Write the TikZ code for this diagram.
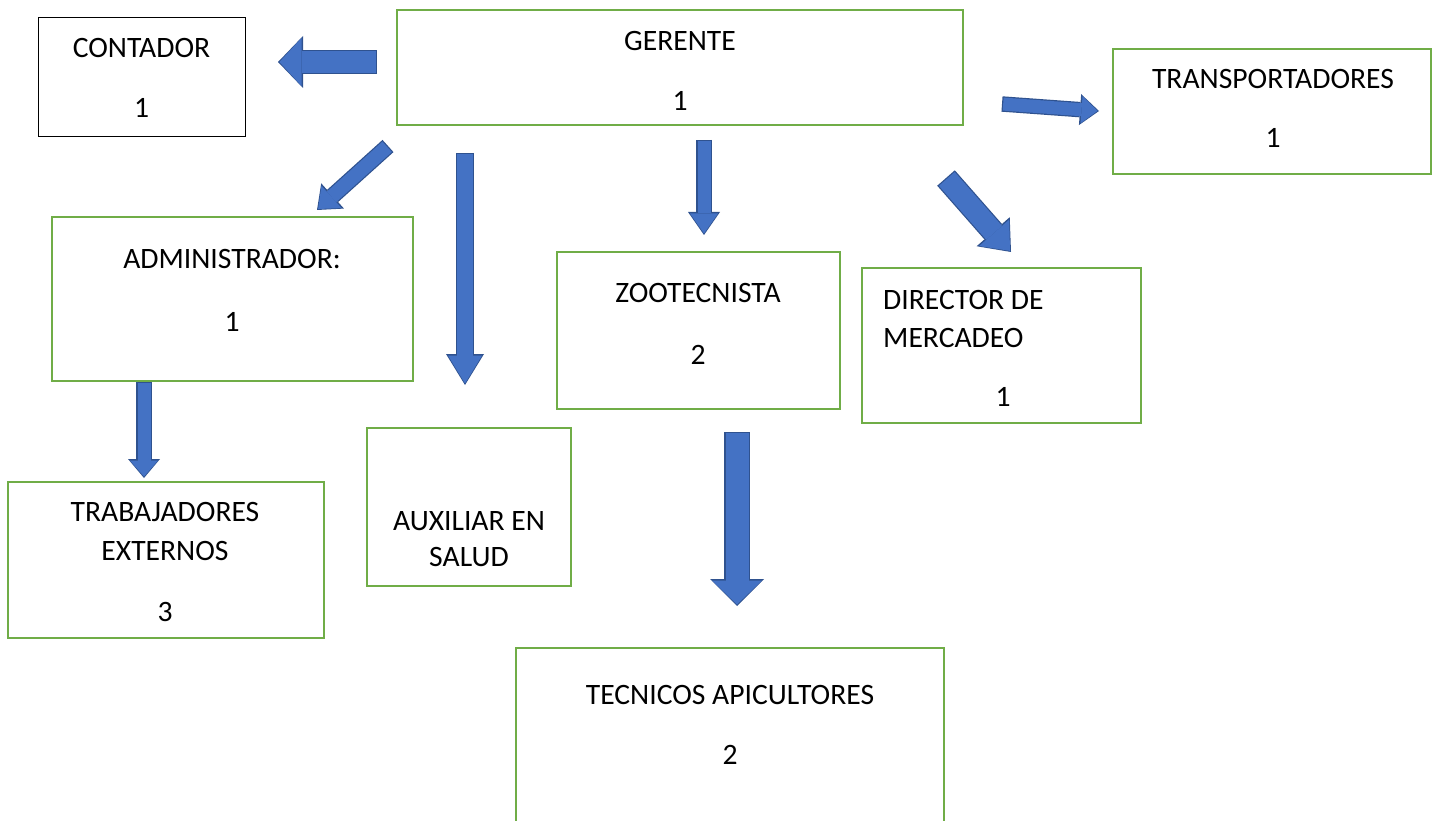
\documentclass[tikz,border=0pt]{standalone}
\usepackage{fontspec}
\setmainfont{Carlito}
\usetikzlibrary{arrows.meta}

\definecolor{verde}{HTML}{70AD47}
\definecolor{azul}{HTML}{4472C4}
\definecolor{bordeazul}{HTML}{2F528F}

\tikzset{
  caja/.style={draw=verde, line width=2.5pt, rectangle},
  texto/.style={anchor=base, inner sep=0pt, font=\fontsize{29.6}{35}\selectfont},
  flecha/.style n args={3}{
    /utils/exec={\pgfmathsetmacro\anchoext{#1+2.4}\pgfmathsetmacro\puntaext{#2+4}\pgfmathsetmacro\largoext{#3+3}},
    draw=azul, line width=#1pt, shorten >=1.5pt, shorten <=1.2pt,
    -{Triangle[width=#2pt, length=#3pt, line width=0pt]},
    preaction={draw=bordeazul, line width=\anchoext pt, shorten >=0pt, shorten <=0pt,
      -{Triangle[width=\puntaext pt, length=\largoext pt, line width=0pt]}}
  }
}

\begin{document}
\begin{tikzpicture}[x=1pt, y=-1pt]
    \useasboundingbox (0,0) rectangle (1433,821);
    % cajas
    \node[draw=black, line width=1pt, minimum width=207pt, minimum height=119pt] (contador) at (141.5,77.5) {};
    \node[caja, minimum width=566pt, minimum height=115pt] (gerente) at (680,67.5) {};
    \node[caja, minimum width=318pt, minimum height=125pt] (transportadores) at (1272,111.5) {};
    \node[caja, minimum width=361pt, minimum height=164pt] (administrador) at (232.5,299) {};
    \node[caja, minimum width=283pt, minimum height=157pt] (zootecnista) at (698.5,330.5) {};
    \node[caja, minimum width=279pt, minimum height=155pt] (director) at (1001.5,345.5) {};
    \node[caja, minimum width=316pt, minimum height=156pt] (trabajadores) at (166,560) {};
    \node[caja, minimum width=204pt, minimum height=158pt] (auxiliar) at (469,507) {};
    \node[caja, minimum width=428pt, minimum height=192pt] (tecnicos) at (730,744) {};
    % textos
    \node[texto] (contador-t) at (141.5,58) {CONTADOR};
    \node[texto] (contador-n) at (141.5,118) {1};
    \node[texto] (gerente-t) at (680,51) {GERENTE};
    \node[texto] (gerente-n) at (680,111) {1};
    \node[texto] (transportadores-t) at (1273,89) {TRANSPORTADORES};
    \node[texto] (transportadores-n) at (1273,148) {1};
    \node[texto] (administrador-t) at (232,269) {ADMINISTRADOR:};
    \node[texto] (administrador-n) at (232,331) {1};
    \node[texto] (zootecnista-t) at (698,302) {ZOOTECNISTA};
    \node[texto] (zootecnista-n) at (698,364) {2};
    \node[texto, anchor=base west] (director-t1) at (883,309) {DIRECTOR DE};
    \node[texto, anchor=base west] (director-t2) at (883,347) {MERCADEO};
    \node[texto] (director-n) at (1003,406) {1};
    \node[texto] (trabajadores-t1) at (165,521) {TRABAJADORES};
    \node[texto] (trabajadores-t2) at (165,560) {EXTERNOS};
    \node[texto] (trabajadores-n) at (165,621) {3};
    \node[texto] (auxiliar-t1) at (469,530) {AUXILIAR EN};
    \node[texto] (auxiliar-t2) at (469,566) {SALUD};
    \node[texto] (tecnicos-t) at (730,704) {TECNICOS APICULTORES};
    \node[texto] (tecnicos-n) at (730,764) {2};
    % extremos de las flechas
    \coordinate (f1a) at (377,62);   \coordinate (f1b) at (278,62);
    \coordinate (f2a) at (388,146);  \coordinate (f2b) at (317,210);
    \coordinate (f3a) at (465,153);  \coordinate (f3b) at (465,385);
    \coordinate (f4a) at (704,140);  \coordinate (f4b) at (704,235);
    \coordinate (f5a) at (1002,104); \coordinate (f5b) at (1099,111);
    \coordinate (f6a) at (946,178);  \coordinate (f6b) at (1011,252);
    \coordinate (f7a) at (144,382);  \coordinate (f7b) at (144,478);
    \coordinate (f8a) at (737,432);  \coordinate (f8b) at (737,606);
    % flechas
    \draw[flecha={22}{48}{22}] (f1a) -- (f1b);
    \draw[flecha={14}{30}{18}] (f2a) -- (f2b);
    \draw[flecha={16}{34}{28}] (f3a) -- (f3b);
    \draw[flecha={13}{28}{20}] (f4a) -- (f4b);
    \draw[flecha={13}{27}{16}] (f5a) -- (f5b);
    \draw[flecha={21}{40}{24}] (f6a) -- (f6b);
    \draw[flecha={13}{28}{16}] (f7a) -- (f7b);
    \draw[flecha={23}{50}{24}] (f8a) -- (f8b);
\end{tikzpicture}
\end{document}
